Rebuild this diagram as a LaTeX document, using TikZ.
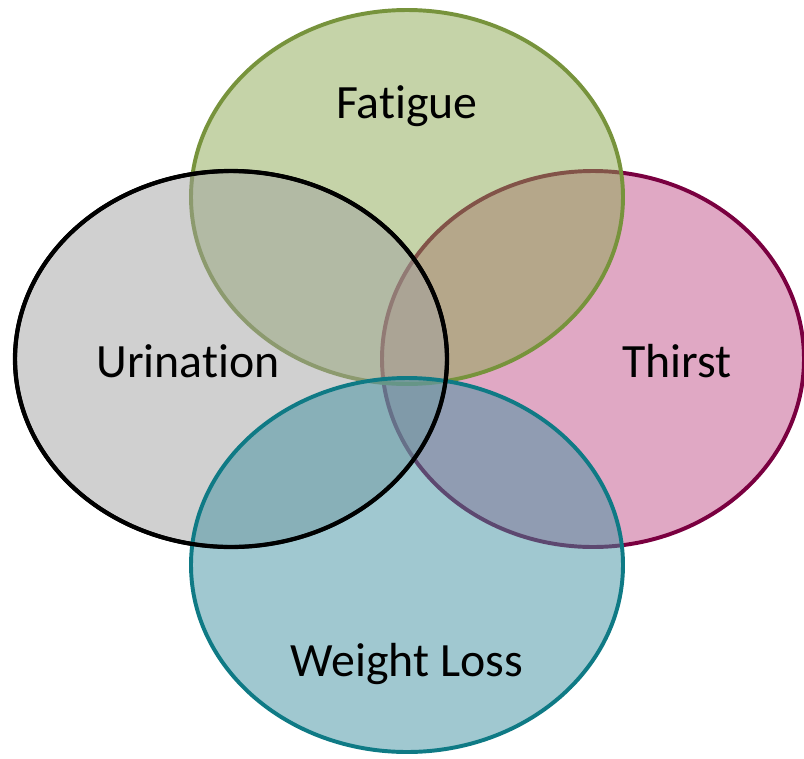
\documentclass[tikz,border=0pt]{standalone}
\usepackage{fontspec}
\setmainfont{Carlito}[Ligatures=NoCommon]
\definecolor{fatiguefill}{HTML}{8BA751}
\definecolor{fatigueline}{HTML}{77933C}
\definecolor{urinfill}{HTML}{A1A1A1}
\definecolor{thirstfill}{HTML}{C15189}
\definecolor{thirstline}{HTML}{7A0040}
\definecolor{lossfill}{HTML}{4191A1}
\definecolor{lossline}{HTML}{0F7A85}
\tikzset{
	set/.style={line width=2.8pt,fill opacity=0.5,draw opacity=1},
	setlabel/.style={font=\fontsize{34}{40}\selectfont,text=black}
}
\begin{document}
\begin{tikzpicture}[x=0.025cm,y=-0.025cm]
		\useasboundingbox (0,0) rectangle (804,758);
		\draw[set,thirstline,fill=thirstfill] (593,359) ellipse (211 and 188);
		\draw[set,fatigueline,fill=fatiguefill] (407,197) ellipse (216 and 187);
		\draw[set,black,fill=urinfill] (231,359) ellipse (216 and 188);
		\draw[set,lossline,fill=lossfill] (407,565) ellipse (216 and 187);
		% outline of the grey set once more, on top
		\draw[line width=3pt,black] (231,359) ellipse (216 and 188);
		\node[setlabel] (fatigue) at (407,106) {Fatigue};
		\node[setlabel] (urination) at (188,361) {Urination};
		\node[setlabel] (thirst) at (677,361) {Thirst};
		\node[setlabel] (weightloss) at (407,664) {Weight Loss};
	\end{tikzpicture}
\end{document}
